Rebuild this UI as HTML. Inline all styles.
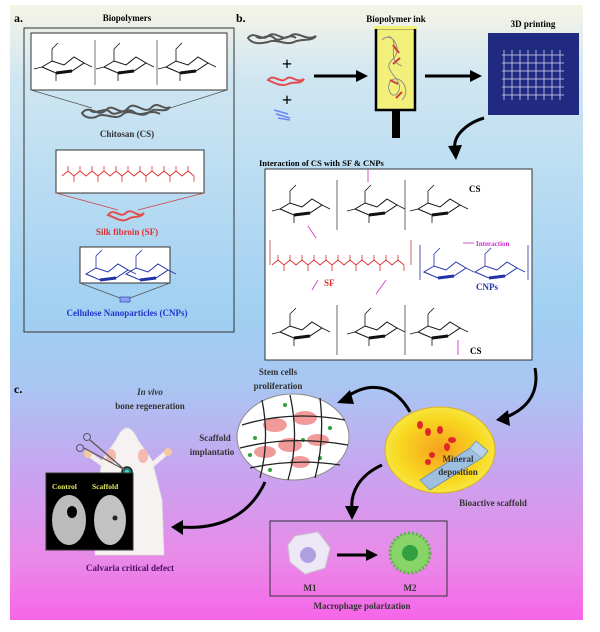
<!DOCTYPE html>
<html><head><meta charset="utf-8"><style>
html,body{margin:0;padding:0;background:#fff;width:600px;height:632px;overflow:hidden}
svg{display:block}
text{font-family:"Liberation Serif",serif;font-weight:bold}
</style></head><body>
<svg width="600" height="632" viewBox="0 0 600 632" xmlns="http://www.w3.org/2000/svg">
<defs>
<linearGradient id="bg" x1="0" y1="0" x2="0" y2="1">
<stop offset="0" stop-color="#f6f4e6"/>
<stop offset="0.12" stop-color="#cfe6f2"/>
<stop offset="0.5" stop-color="#a0d0f2"/>
<stop offset="0.62" stop-color="#a9c6f2"/>
<stop offset="0.76" stop-color="#c8a4f0"/>
<stop offset="0.9" stop-color="#e98ae8"/>
<stop offset="1" stop-color="#f665e8"/>
</linearGradient>
<radialGradient id="yel" cx="0.5" cy="0.5" r="0.5">
<stop offset="0" stop-color="#f7a020"/><stop offset="0.75" stop-color="#f8d820"/><stop offset="1" stop-color="#f6e640"/>
</radialGradient>
<g id="ring">
<path d="M0,12 L10,6 L22,10 L32,2 L42,8 L30,16 L14,18 Z" fill="none" stroke="#111" stroke-width="1"/>
<path d="M14,18 L30,16" stroke="#111" stroke-width="3"/>
<path d="M10,6 L10,-6 L16,-12 M42,8 L50,12 M14,18 L14,26 M0,12 L-8,14" stroke="#111" stroke-width="0.8" fill="none"/>
</g>
<g id="ringb">
<path d="M0,12 L10,6 L22,10 L32,2 L42,8 L30,16 L14,18 Z" fill="none" stroke="#2233aa" stroke-width="1"/>
<path d="M14,18 L30,16" stroke="#2233aa" stroke-width="3"/>
<path d="M10,6 L10,-6 L16,-12 M42,8 L50,12" stroke="#2233aa" stroke-width="0.8" fill="none"/>
</g>
<g id="pep">
<path d="M0,8 l6,-5 l6,5 l6,-5 l6,5 l6,-5 l6,5 l6,-5 l6,5 l6,-5 l6,5 l6,-5 l6,5 l6,-5 l6,5 l6,-5 l6,5 l6,-5 l6,5 l6,-5 l6,5 l6,-5 l6,5" fill="none" stroke="#e03030" stroke-width="0.9"/>
<path d="M6,3 v-5 M18,3 v-5 M30,3 v-5 M42,3 v-5 M54,3 v-5 M66,3 v-5 M78,3 v-5 M90,3 v-5 M102,3 v-5 M114,3 v-5 M126,3 v-5 M12,8 v6 M36,8 v6 M60,8 v6 M84,8 v6 M108,8 v6 M132,8 v6" stroke="#e03030" stroke-width="0.8"/>
</g>
</defs>
<rect x="0" y="0" width="600" height="632" fill="#fff"/>
<rect x="10" y="5" width="573" height="615" fill="url(#bg)"/>

<!-- Panel a -->
<text x="14" y="22" font-size="12">a.</text>
<text x="127" y="21" font-size="9" text-anchor="middle">Biopolymers</text>
<rect x="24" y="28" width="210" height="304" fill="none" stroke="#333" stroke-width="1"/>
<rect x="31" y="33" width="196" height="57" fill="#fff" stroke="#333" stroke-width="1"/>
<use href="#ring" x="42" y="55"/><use href="#ring" x="104" y="55"/><use href="#ring" x="166" y="55"/>
<path d="M95,40 v45 M157,40 v45" stroke="#555" stroke-width="0.8"/>
<path d="M31,90 L92,108 M227,90 L170,108" stroke="#555" stroke-width="0.8"/>
<path d="M82,113 c8,-10 16,6 24,-3 c8,-8 14,8 22,-2 c8,-8 16,8 24,-1 c6,-6 12,4 18,0 c-6,8 -14,-2 -22,6 c-8,6 -18,-6 -26,2 c-8,6 -18,-4 -26,2 c-6,2 -12,0 -14,-4z M90,110 c6,6 14,-4 20,2 c6,6 16,-6 24,0 c8,6 16,-4 26,2" fill="none" stroke="#555" stroke-width="2"/>
<text x="127" y="137" font-size="9" text-anchor="middle" fill="#333">Chitosan (CS)</text>
<rect x="56" y="150" width="148" height="43" fill="#fff" stroke="#333" stroke-width="1"/>
<use href="#pep" x="62" y="168"/>
<path d="M56,193 L118,210 M204,193 L138,210" stroke="#c44" stroke-width="0.8"/>
<path d="M108,215 c6,-8 12,4 18,-2 c6,-6 12,6 18,0 c-4,6 -10,2 -16,6 c-6,4 -14,-2 -20,-4z" fill="none" stroke="#e05050" stroke-width="2"/>
<text x="127" y="235" font-size="9" text-anchor="middle" fill="#e03030">Silk fibroin (SF)</text>
<rect x="80" y="247" width="90" height="36" fill="#fff" stroke="#333" stroke-width="1"/>
<use href="#ringb" x="86" y="262"/><use href="#ringb" x="126" y="262"/>
<path d="M80,283 L120,298 M170,283 L130,298" stroke="#555" stroke-width="0.8"/>
<rect x="120" y="297" width="10" height="5" fill="#8aa0f0" stroke="#2233aa" stroke-width="0.6"/>
<text x="127" y="316" font-size="9" text-anchor="middle" fill="#2233cc">Cellulose Nanoparticles (CNPs)</text>

<!-- Panel b -->
<text x="236" y="22" font-size="12">b.</text>
<path d="M248,38 c6,-8 14,4 20,-2 c8,-6 14,6 22,0 c8,-6 16,6 26,0 c-4,6 -14,2 -22,6 c-8,4 -18,-4 -26,0 c-8,2 -16,2 -20,-4z M256,36 c6,6 12,-4 18,2 c6,6 14,-6 22,0" fill="none" stroke="#555" stroke-width="2"/>
<text x="287" y="70" font-size="18" text-anchor="middle" font-family="Liberation Sans">+</text>
<path d="M268,80 c6,-7 12,4 18,-1 c6,-5 10,5 18,0 c-4,6 -10,2 -16,5 c-6,3 -14,-1 -20,-4z" fill="none" stroke="#e05050" stroke-width="2"/>
<text x="287" y="106" font-size="18" text-anchor="middle" font-family="Liberation Sans">+</text>
<path d="M274,110 l14,4 M276,114 l14,4 M278,118 l12,2" stroke="#6b86ee" stroke-width="1.5"/>
<line x1="314" y1="76" x2="358" y2="76" stroke="#000" stroke-width="3"/>
<path d="M356,70 L368,76 L356,82 Z" fill="#000"/>
<text x="396" y="22" font-size="9" text-anchor="middle">Biopolymer ink</text>
<rect x="376" y="28" width="39" height="82" fill="#f2ef7a" stroke="#000" stroke-width="2.5"/>
<rect x="374" y="26" width="43" height="3" fill="#f2ef7a"/>
<path d="M382,40 c10,-10 22,10 10,20 c-12,10 14,20 6,32 c-6,10 -14,-6 -6,-12 c8,-6 20,10 10,20 M388,36 c14,4 -4,24 14,30" fill="none" stroke="#888" stroke-width="0.9"/>
<path d="M393,45 l6,8 M400,58 l-7,6 M390,80 l8,4 M402,92 l-6,6" stroke="#d04040" stroke-width="2"/>
<rect x="392" y="110" width="8" height="28" fill="#000"/>
<line x1="425" y1="76" x2="472" y2="76" stroke="#000" stroke-width="3"/>
<path d="M470,70 L482,76 L470,82 Z" fill="#000"/>
<text x="533" y="27" font-size="9" text-anchor="middle">3D printing</text>
<rect x="488" y="33" width="91" height="82" fill="#202a80"/>
<g stroke="#c8cce8" stroke-width="1" opacity="0.85">
<path d="M502,55 h62 M502,63 h62 M502,71 h62 M502,79 h62 M502,87 h62 M502,95 h62 M504,50 v50 M512,50 v50 M520,50 v50 M528,50 v50 M536,50 v50 M544,50 v50 M552,50 v50 M560,50 v50"/>
</g>
<path d="M484,118 C470,122 452,134 455,150" fill="none" stroke="#000" stroke-width="3"/>
<path d="M448,146 L456,160 L462,145 Z" fill="#000"/>
<text x="259" y="166" font-size="8.5">Interaction of CS with SF &amp; CNPs</text>
<rect x="265" y="169" width="267" height="191" fill="#fff" stroke="#333" stroke-width="1"/>
<use href="#ring" x="280" y="197"/><use href="#ring" x="355" y="197"/><use href="#ring" x="418" y="197"/>
<path d="M337,180 v50 M405,180 v50" stroke="#444" stroke-width="0.8"/>
<text x="469" y="192" font-size="9">CS</text>
<path d="M368,170 v12" stroke="#d050d0" stroke-width="1"/>
<path d="M270,240 v25 M411,240 v25" stroke="#c04040" stroke-width="0.8"/>
<use href="#pep" x="272" y="257"/>
<text x="324" y="286" font-size="9" fill="#e03030">SF</text>
<path d="M308,226 l8,12 M318,280 l-6,10 M386,280 l-10,14" stroke="#d050d0" stroke-width="1"/>
<path d="M420,245 v35 M528,245 v35" stroke="#2233aa" stroke-width="0.8"/>
<use href="#ringb" x="424" y="260"/><use href="#ringb" x="475" y="260"/>
<text x="476" y="290" font-size="9" fill="#2233aa">CNPs</text>
<line x1="463" y1="243" x2="474" y2="243" stroke="#d050d0" stroke-width="1"/>
<text x="476" y="246" font-size="7" fill="#d030d0">Interaction</text>
<use href="#ring" x="280" y="320"/><use href="#ring" x="355" y="320"/><use href="#ring" x="418" y="320"/>
<path d="M337,305 v50 M405,305 v50" stroke="#444" stroke-width="0.8"/>
<text x="470" y="354" font-size="9">CS</text>
<path d="M458,340 v15" stroke="#d050d0" stroke-width="1"/>

<!-- Panel c -->
<text x="14" y="393" font-size="12">c.</text>
<text x="150" y="395" font-size="9" text-anchor="middle" font-style="italic" fill="#333">In vivo</text>
<text x="150" y="409" font-size="9" text-anchor="middle" fill="#333">bone regeneration</text>
<text x="278" y="375" font-size="9" text-anchor="middle" fill="#333">Stem cells</text>
<text x="278" y="389" font-size="9" text-anchor="middle" fill="#333">proliferation</text>
<text x="215" y="441" font-size="9" text-anchor="middle" fill="#333">Scaffold</text>
<text x="212" y="455" font-size="9" text-anchor="middle" fill="#333">implantatio</text>

<!-- mouse -->
<path d="M116,440 Q127,416 138,440 L152,460 L162,500 L164,555 L95,555 L96,500 L102,460 Z" fill="#f6f2f2" stroke="#ddd" stroke-width="0.8"/>
<path d="M104,465 l-14,-10 M152,465 l14,-12" stroke="#f4eeee" stroke-width="5"/>
<circle cx="88" cy="454" r="4" fill="#f4c8a0"/><circle cx="168" cy="452" r="4" fill="#f4c8a0"/>
<ellipse cx="111" cy="456" rx="5" ry="7" fill="#f4b8b0"/><ellipse cx="143" cy="456" rx="5" ry="7" fill="#f4b8b0"/>
<circle cx="127" cy="472" r="5" fill="#1a8a60" stroke="#222" stroke-width="1.5"/>
<circle cx="127" cy="472" r="2" fill="#50d0f0"/>
<path d="M125,470 L90,440 M125,470 L84,448" stroke="#555" stroke-width="1.2"/>
<circle cx="87" cy="437" r="3.5" fill="none" stroke="#556" stroke-width="1"/><circle cx="80" cy="448" r="3.5" fill="none" stroke="#556" stroke-width="1"/>
<rect x="46" y="473" width="87" height="77" fill="#000" stroke="#333"/>
<text x="52" y="489" font-size="7.5" fill="#e8e860">Control</text>
<text x="92" y="489" font-size="7.5" fill="#e8e860">Scaffold</text>
<ellipse cx="69" cy="520" rx="17" ry="25" fill="#bbb"/><ellipse cx="110" cy="520" rx="16" ry="25" fill="#c2c2c2"/>
<ellipse cx="72" cy="512" rx="5" ry="6" fill="#000"/><circle cx="115" cy="518" r="2.5" fill="#222"/>
<text x="130" y="571" font-size="9" text-anchor="middle" fill="#4a1060">Calvaria critical defect</text>

<!-- scaffold circle -->
<ellipse cx="293" cy="437" rx="56" ry="43" fill="#fff" stroke="#888" stroke-width="1"/>
<g fill="#f09090" opacity="0.9">
<ellipse cx="275" cy="425" rx="12" ry="7"/><ellipse cx="305" cy="418" rx="12" ry="7"/><ellipse cx="290" cy="445" rx="12" ry="7"/><ellipse cx="318" cy="440" rx="11" ry="6"/><ellipse cx="265" cy="452" rx="11" ry="6"/><ellipse cx="300" cy="462" rx="10" ry="6"/></g>
<g fill="#30a040"><circle cx="255" cy="438" r="2"/><circle cx="285" cy="405" r="2"/><circle cx="330" cy="428" r="2"/><circle cx="320" cy="458" r="2"/><circle cx="270" cy="470" r="2"/><circle cx="303" cy="440" r="2"/><circle cx="250" cy="455" r="2"/></g>
<g stroke="#222" stroke-width="1.3" fill="none">
<path d="M242,425 Q290,410 345,420 M240,448 Q290,435 348,445 M250,468 Q295,458 340,465 M262,400 Q270,440 260,478 M290,395 Q300,440 288,480 M320,398 Q325,440 315,478"/></g>

<!-- bioactive ellipse -->
<ellipse cx="440" cy="450" rx="55" ry="43" fill="url(#yel)" stroke="#d8b020" stroke-width="1"/>
<path d="M420,480 L470,448 L482,458 L430,490 Z" fill="#9ec0e0" stroke="#6a8ab0" stroke-width="0.8"/>
<path d="M470,448 L476,441 L488,451 L482,458" fill="#b8d4ec" stroke="#6a8ab0" stroke-width="0.8"/>
<g fill="#e02828"><ellipse cx="420" cy="425" rx="3" ry="4"/><ellipse cx="428" cy="432" rx="3" ry="4"/><ellipse cx="440" cy="430" rx="3" ry="4"/><ellipse cx="452" cy="440" rx="4" ry="3"/><ellipse cx="447" cy="447" rx="3" ry="4"/><ellipse cx="432" cy="455" rx="3" ry="3"/><ellipse cx="428" cy="462" rx="3" ry="3"/></g>
<text x="458" y="462" font-size="9" text-anchor="middle" fill="#333">Mineral</text>
<text x="458" y="475" font-size="9" text-anchor="middle" fill="#333">deposition</text>
<text x="493" y="506" font-size="9" text-anchor="middle" fill="#333">Bioactive scaffold</text>

<!-- macrophage -->
<rect x="270" y="521" width="177" height="75" fill="none" stroke="#333" stroke-width="1"/>
<path d="M295,536 L318,532 L330,548 L325,568 L305,574 L290,562 L288,545 Z" fill="#ece8f6" stroke="#ccc"/>
<circle cx="308" cy="555" r="8" fill="#b0a0e0"/>
<line x1="337" y1="555" x2="368" y2="555" stroke="#000" stroke-width="3"/>
<path d="M366,549 L378,555 L366,561 Z" fill="#000"/>
<circle cx="410" cy="553" r="20" fill="#88d468" stroke="#60b050" stroke-width="3" stroke-dasharray="2 2"/>
<circle cx="410" cy="553" r="8" fill="#30a040"/>
<text x="310" y="591" font-size="9" text-anchor="middle" fill="#333">M1</text>
<text x="410" y="591" font-size="9" text-anchor="middle" fill="#333">M2</text>
<text x="362" y="609" font-size="9" text-anchor="middle" fill="#333">Macrophage polarization</text>

<!-- curved arrows -->
<g fill="none" stroke="#000" stroke-width="3">
<path d="M535,368 C540,395 525,410 504,418"/>
<path d="M410,412 C395,385 370,380 345,398"/>
<path d="M382,465 C360,475 350,492 352,510"/>
<path d="M265,482 C250,515 220,530 180,527"/>
</g>
<g fill="#000">
<path d="M508,410 L496,420 L510,426 Z"/>
<path d="M350,390 L337,403 L354,404 Z"/>
<path d="M345,506 L352,520 L359,506 Z"/>
<path d="M183,520 L171,527 L183,535 Z"/>
</g>
</svg>
</body></html>
